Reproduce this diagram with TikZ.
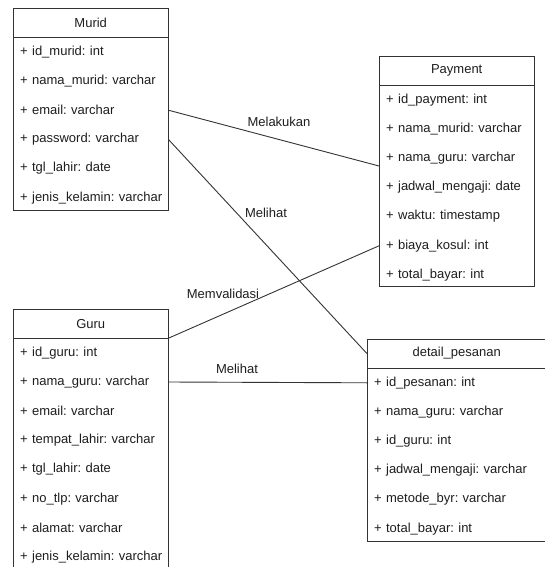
\documentclass[tikz,border=0pt]{standalone}
\usepackage{fontspec}
\setmainfont{Liberation Sans}
\usetikzlibrary{calc}
\definecolor{ink}{HTML}{1E1E1E}
\definecolor{edge}{HTML}{333333}
\newcommand\attr[1]{\mbox{+ #1}}
\tikzset{
  classbox/.style={draw=edge, line width=1pt, inner sep=0pt, anchor=north west, minimum height=#1},
  title/.style={anchor=north west, inner sep=0pt, minimum height=28.8pt, align=center,
    font=\fontsize{13}{15}\selectfont\frenchspacing, text=ink},
  field/.style={anchor=north west, inner xsep=7pt, inner ysep=0pt, minimum height=28.8pt,
    text width=#1, align=left, font=\fontsize{13}{15}\selectfont\frenchspacing, text=ink},
  rule/.style={draw=edge, line width=1pt},
  link/.style={draw=edge, line width=0.9pt},
  linklabel/.style={font=\fontsize{13}{15}\selectfont\frenchspacing, text=ink, inner sep=1pt},
}
\begin{document}
\begin{tikzpicture}[x=1pt, y=-1pt]
\useasboundingbox[fill=white] (0,0) rectangle (544,567);

% ---- Murid ----
\node[classbox=201.6pt, minimum width=155pt] (murid) at (13,8) {};
\node[title, minimum width=155pt] (murid-h) at (murid.north west) {Murid};
\draw[rule] (murid-h.south west) -- (murid-h.south east);
\node[field=141pt] (murid-1) at (murid-h.south west) {\attr{id\_murid: int}};
\node[field=141pt] (murid-2) at (murid-1.south west) {\attr{nama\_murid: varchar}};
\node[field=141pt] (murid-3) at (murid-2.south west) {\attr{email: varchar}};
\node[field=141pt] (murid-4) at (murid-3.south west) {\attr{password: varchar}};
\node[field=141pt] (murid-5) at (murid-4.south west) {\attr{tgl\_lahir: date}};
\node[field=141pt] (murid-6) at (murid-5.south west) {\attr{jenis\_kelamin: varchar}};

% ---- Payment ----
\node[classbox=230.4pt, minimum width=155pt] (pay) at (379,56) {};
\node[title, minimum width=155pt] (pay-h) at (pay.north west) {Payment};
\draw[rule] (pay-h.south west) -- (pay-h.south east);
\node[field=141pt] (pay-1) at (pay-h.south west) {\attr{id\_payment: int}};
\node[field=141pt] (pay-2) at (pay-1.south west) {\attr{nama\_murid: varchar}};
\node[field=141pt] (pay-3) at (pay-2.south west) {\attr{nama\_guru: varchar}};
\node[field=141pt] (pay-4) at (pay-3.south west) {\attr{jadwal\_mengaji: date}};
\node[field=141pt] (pay-5) at (pay-4.south west) {\attr{waktu: timestamp}};
\node[field=141pt] (pay-6) at (pay-5.south west) {\attr{biaya\_kosul: int}};
\node[field=141pt] (pay-7) at (pay-6.south west) {\attr{total\_bayar: int}};

% ---- Guru ----
\node[classbox=259.2pt, minimum width=155pt] (guru) at (13,309) {};
\node[title, minimum width=155pt] (guru-h) at (guru.north west) {Guru};
\draw[rule] (guru-h.south west) -- (guru-h.south east);
\node[field=141pt] (guru-1) at (guru-h.south west) {\attr{id\_guru: int}};
\node[field=141pt] (guru-2) at (guru-1.south west) {\attr{nama\_guru: varchar}};
\node[field=141pt] (guru-3) at (guru-2.south west) {\attr{email: varchar}};
\node[field=141pt] (guru-4) at (guru-3.south west) {\attr{tempat\_lahir: varchar}};
\node[field=141pt] (guru-5) at (guru-4.south west) {\attr{tgl\_lahir: date}};
\node[field=141pt] (guru-6) at (guru-5.south west) {\attr{no\_tlp: varchar}};
\node[field=141pt] (guru-7) at (guru-6.south west) {\attr{alamat: varchar}};
\node[field=141pt] (guru-8) at (guru-7.south west) {\attr{jenis\_kelamin: varchar}};

% ---- detail_pesanan ----
\node[classbox=201.6pt, minimum width=179pt] (det) at (367,339) {};
\node[title, minimum width=179pt] (det-h) at (det.north west) {detail\_pesanan};
\draw[rule] (det-h.south west) -- (det-h.south east);
\node[field=165pt] (det-1) at (det-h.south west) {\attr{id\_pesanan: int}};
\node[field=165pt] (det-2) at (det-1.south west) {\attr{nama\_guru: varchar}};
\node[field=165pt] (det-3) at (det-2.south west) {\attr{id\_guru: int}};
\node[field=165pt] (det-4) at (det-3.south west) {\attr{jadwal\_mengaji: varchar}};
\node[field=165pt] (det-5) at (det-4.south west) {\attr{metode\_byr: varchar}};
\node[field=165pt] (det-6) at (det-5.south west) {\attr{total\_bayar: int}};

% ---- relations ----
\coordinate (pay-in) at ($(pay.north west)+(0,110)$);
\draw[link] (murid-3.east) -- (pay-in);
\draw[link] (murid-4.east) -- (det-h.west);
\draw[link] (guru-h.south east) -- (pay-6.west);
\draw[link] (guru-2.east) -- (det-1.west);

\node[linklabel] (l-melakukan) at (279,122) {Melakukan};
\node[linklabel] (l-melihat1) at (266,213) {Melihat};
\node[linklabel] (l-memvalidasi) at (223,294) {Memvalidasi};
\node[linklabel] (l-melihat2) at (237,369) {Melihat};
\end{tikzpicture}
\end{document}
